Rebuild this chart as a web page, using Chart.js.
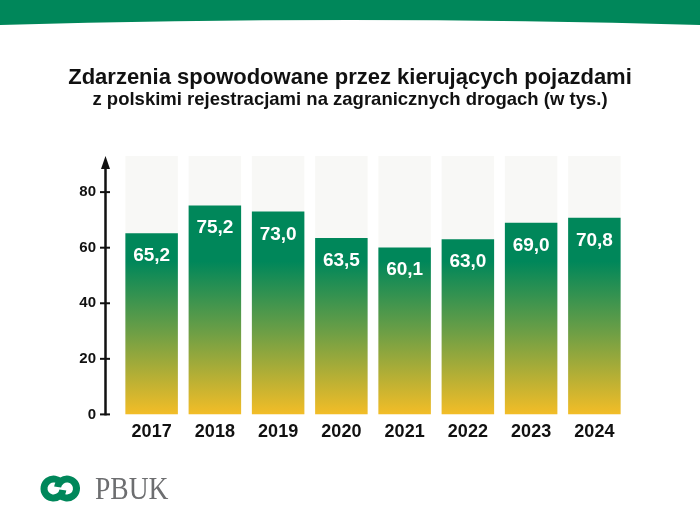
<!DOCTYPE html>
<html>
<head>
<meta charset="utf-8">
<script src="https://cdn.jsdelivr.net/npm/chart.js@4.4.1/dist/chart.umd.min.js"></script>
<style>
  html, body { margin: 0; padding: 0; background: #fff; }
  canvas { display: block; }
</style>
</head>
<body>
<canvas id="chart" width="700" height="525"></canvas>
<script>
const years = ['2017', '2018', '2019', '2020', '2021', '2022', '2023', '2024'];
const accidents = [65.2, 75.2, 73.0, 63.5, 60.1, 63.0, 69.0, 70.8];
const backdrop = [93, 93, 93, 93, 93, 93, 93, 93];
const yTicks = [0, 20, 40, 60, 80];

const titleText = 'Zdarzenia spowodowane przez kierujących pojazdami';
const subtitleText = 'z polskimi rejestracjami na zagranicznych drogach (w tys.)';

const FONT = '"Liberation Sans", Arial, sans-serif';
const GREEN = '#00875a';

// green-to-yellow fill, anchored on the y scale
function barGradient(context) {
    const chart = context.chart;
    const y = chart.scales.y;
    if (!chart.chartArea || !y) return GREEN;
    const g = chart.ctx.createLinearGradient(0, y.getPixelForValue(0), 0, y.getPixelForValue(55));
    g.addColorStop(0, '#f3bd27');
    g.addColorStop(0.55, '#6a9e46');
    g.addColorStop(1, GREEN);
    return g;
}

const decorations = {
    id: 'decorations',
    beforeDraw(chart) {
        const ctx = chart.ctx;
        const w = chart.width;
        ctx.save();
        // top banner
        ctx.fillStyle = GREEN;
        ctx.beginPath();
        ctx.moveTo(0, 0);
        ctx.lineTo(w, 0);
        ctx.lineTo(w, 25);
        ctx.quadraticCurveTo(w / 2, 15, 0, 25);
        ctx.closePath();
        ctx.fill();
        // titles
        ctx.fillStyle = '#111';
        ctx.textAlign = 'center';
        ctx.textBaseline = 'alphabetic';
        ctx.font = 'bold 22px ' + FONT;
        ctx.fillText(titleText, w / 2, 84);
        ctx.font = 'bold 18.5px ' + FONT;
        ctx.fillText(subtitleText, w / 2, 105);
        ctx.restore();
    },
    afterDatasetsDraw(chart) {
        const ctx = chart.ctx;
        const meta = chart.getDatasetMeta(1);
        ctx.save();
        ctx.fillStyle = '#fff';
        ctx.font = 'bold 19px ' + FONT;
        ctx.textAlign = 'center';
        ctx.textBaseline = 'alphabetic';
        meta.data.forEach((bar, i) => {
            const label = accidents[i].toFixed(1).replace('.', ',');
            ctx.fillText(label, bar.x, bar.y + 28);
        });
        ctx.restore();
    },
    afterDraw(chart) {
        const ctx = chart.ctx;
        const y = chart.scales.y;
        const ax = chart.chartArea.left - 14.5;
        const top = chart.chartArea.top;
        ctx.save();
        // y axis with arrow
        ctx.strokeStyle = '#111';
        ctx.fillStyle = '#111';
        ctx.lineWidth = 2.5;
        ctx.beginPath();
        ctx.moveTo(ax, y.getPixelForValue(0) + 1);
        ctx.lineTo(ax, top + 10);
        ctx.stroke();
        ctx.beginPath();
        ctx.moveTo(ax, top);
        ctx.lineTo(ax + 4.5, top + 13);
        ctx.lineTo(ax - 4.5, top + 13);
        ctx.closePath();
        ctx.fill();
        ctx.lineWidth = 2;
        yTicks.forEach(v => {
            const py = y.getPixelForValue(v);
            ctx.beginPath();
            ctx.moveTo(ax - 5.5, py);
            ctx.lineTo(ax + 4.5, py);
            ctx.stroke();
        });

        // PBUK logo: two linked rings + wordmark
        ctx.strokeStyle = GREEN;
        ctx.lineWidth = 7;
        ctx.beginPath();
        ctx.arc(53.5, 488.5, 9.5, 0.05 * Math.PI, 1.75 * Math.PI);
        ctx.stroke();
        ctx.beginPath();
        ctx.arc(67, 488.5, 9.5, 1.05 * Math.PI, 0.75 * Math.PI);
        ctx.stroke();
        ctx.fillStyle = '#6d6e70';
        ctx.font = '32px "Liberation Serif", "DejaVu Serif", serif';
        ctx.textAlign = 'left';
        ctx.textBaseline = 'alphabetic';
        ctx.translate(95, 499);
        ctx.scale(0.86, 1);
        ctx.fillText('PBUK', 0, 0);
        ctx.restore();
    }
};

new Chart(document.getElementById('chart'), {
    type: 'bar',
    data: {
        labels: years,
        datasets: [
            {
                label: 'tło',
                data: backdrop,
                backgroundColor: '#f8f8f6',
                grouped: false,
                order: 2,
                barPercentage: 0.83,
                categoryPercentage: 1
            },
            {
                label: 'Zdarzenia (tys.)',
                data: accidents,
                backgroundColor: barGradient,
                grouped: false,
                order: 1,
                barPercentage: 0.83,
                categoryPercentage: 1
            }
        ]
    },
    plugins: [decorations],
    options: {
        responsive: false,
        animation: false,
        layout: {
            padding: { left: 0, right: 74, top: 156, bottom: 75 }
        },
        plugins: {
            legend: { display: false },
            tooltip: { enabled: false }
        },
        scales: {
            x: {
                grid: { display: false, drawTicks: false },
                border: { display: false },
                ticks: {
                    color: '#111',
                    font: { family: FONT, size: 18, weight: 'bold' },
                    padding: 7
                }
            },
            y: {
                min: 0,
                max: 93,
                afterFit(scale) { scale.width = 120; },
                grid: { display: false, drawTicks: false },
                border: { display: false },
                ticks: {
                    stepSize: 20,
                    includeBounds: false,
                    color: '#111',
                    font: { family: FONT, size: 15, weight: 'bold' },
                    padding: 24
                }
            }
        }
    }
});
</script>
</body>
</html>
